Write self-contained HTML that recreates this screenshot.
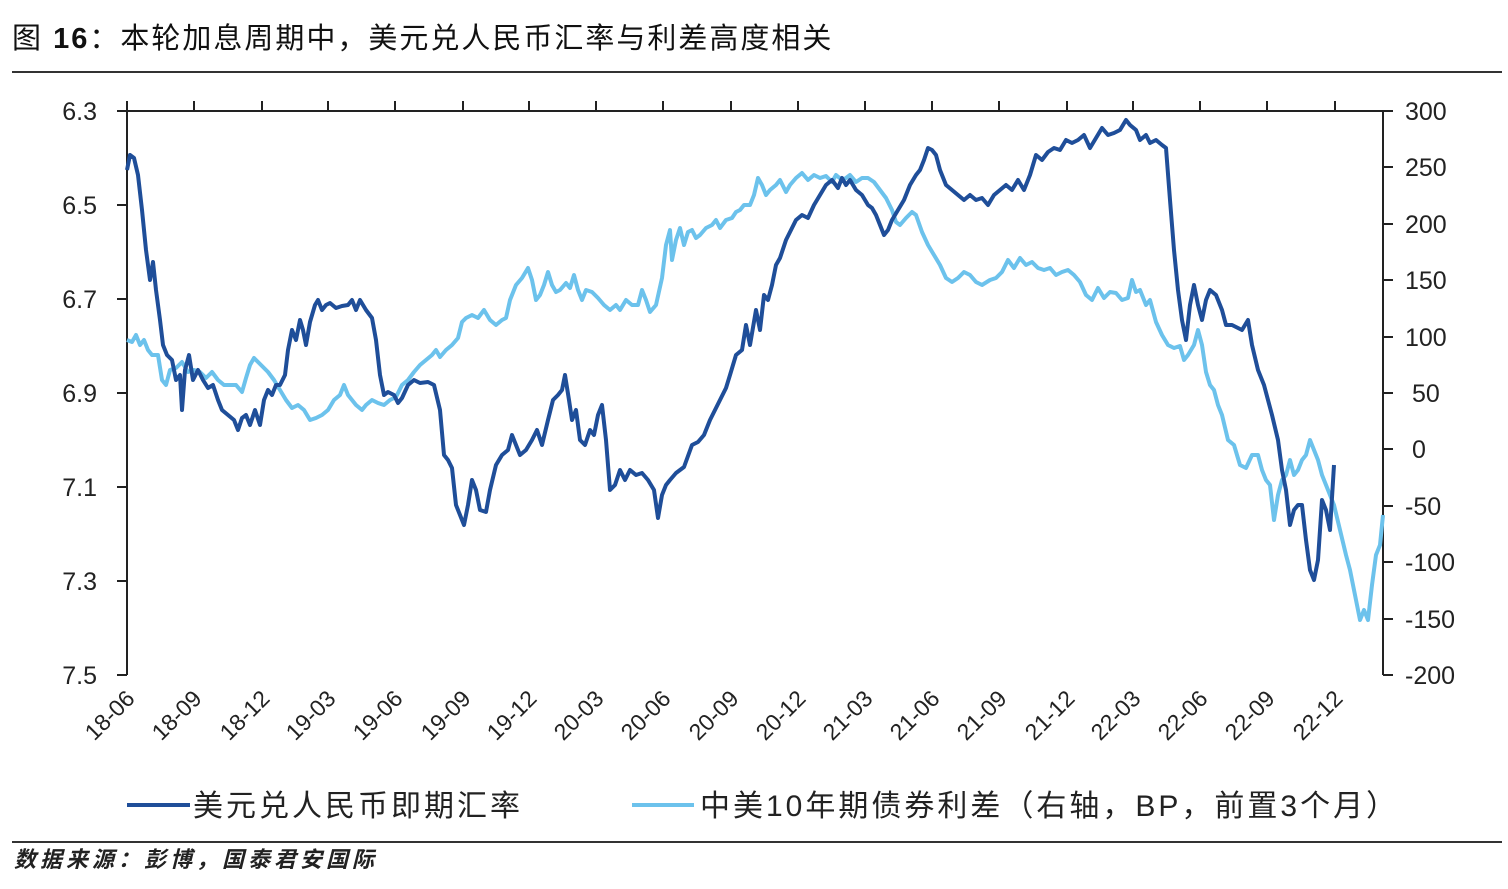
<!DOCTYPE html>
<html><head><meta charset="utf-8"><style>
body{margin:0;background:#fff;width:1508px;height:884px;overflow:hidden}
svg text{font-family:"Liberation Sans","Noto Sans CJK SC",sans-serif}
</style></head><body>
<svg width="1508" height="884" viewBox="0 0 1508 884" xmlns="http://www.w3.org/2000/svg">
<text x="12" y="48" font-size="29" letter-spacing="2" fill="#111">图 <tspan font-weight="bold">16</tspan>：本轮加息周期中，美元兑人民币汇率与利差高度相关</text>
<line x1="12" y1="72" x2="1502" y2="72" stroke="#333" stroke-width="2"/>
<g stroke="#222" stroke-width="2" fill="none">
<line x1="117" y1="111" x2="1383" y2="111"/>
<line x1="127" y1="101" x2="127" y2="675"/>
<line x1="1383" y1="111" x2="1383" y2="675"/>
<path d="M117 111h10M117 205h10M117 299h10M117 393h10M117 487h10M117 581h10M117 675h10"/>
<path d="M1383 111h10M1383 167h10M1383 224h10M1383 280h10M1383 337h10M1383 393h10M1383 449h10M1383 506h10M1383 562h10M1383 619h10M1383 675h10"/>
<path d="M194 101v10M262 101v10M328 101v10M395 101v10M463 101v10M529 101v10M596 101v10M663 101v10M731 101v10M798 101v10M865 101v10M932 101v10M999 101v10M1067 101v10M1133 101v10M1200 101v10M1267 101v10M1335 101v10"/>
</g>
<g font-size="25" fill="#222" text-anchor="end">
<text x="97" y="120">6.3</text><text x="97" y="214">6.5</text><text x="97" y="308">6.7</text><text x="97" y="402">6.9</text><text x="97" y="496">7.1</text><text x="97" y="590">7.3</text><text x="97" y="684">7.5</text>
</g>
<g font-size="25" fill="#222">
<text x="1405" y="120">300</text><text x="1405" y="176">250</text><text x="1405" y="233">200</text><text x="1405" y="289">150</text><text x="1405" y="346">100</text><text x="1412" y="402">50</text><text x="1412" y="458">0</text><text x="1405" y="515">-50</text><text x="1405" y="571">-100</text><text x="1405" y="628">-150</text><text x="1405" y="684">-200</text>
</g>
<g font-size="23" fill="#222" text-anchor="end">
<text transform="translate(136,700) rotate(-45)">18-06</text>
<text transform="translate(203,700) rotate(-45)">18-09</text>
<text transform="translate(271,700) rotate(-45)">18-12</text>
<text transform="translate(337,700) rotate(-45)">19-03</text>
<text transform="translate(404,700) rotate(-45)">19-06</text>
<text transform="translate(472,700) rotate(-45)">19-09</text>
<text transform="translate(538,700) rotate(-45)">19-12</text>
<text transform="translate(605,700) rotate(-45)">20-03</text>
<text transform="translate(672,700) rotate(-45)">20-06</text>
<text transform="translate(740,700) rotate(-45)">20-09</text>
<text transform="translate(807,700) rotate(-45)">20-12</text>
<text transform="translate(874,700) rotate(-45)">21-03</text>
<text transform="translate(941,700) rotate(-45)">21-06</text>
<text transform="translate(1008,700) rotate(-45)">21-09</text>
<text transform="translate(1076,700) rotate(-45)">21-12</text>
<text transform="translate(1142,700) rotate(-45)">22-03</text>
<text transform="translate(1209,700) rotate(-45)">22-06</text>
<text transform="translate(1276,700) rotate(-45)">22-09</text>
<text transform="translate(1344,700) rotate(-45)">22-12</text>
</g>
<polyline fill="none" stroke="#6cc2ec" stroke-width="4" stroke-linejoin="round" points="127,340 132,342 136,335 140,345 144,340 148,350 152,355 158,355 162,380 166,385 170,370 176,368 182,362 188,372 194,370 200,372 206,378 212,372 218,380 224,385 230,385 236,385 242,392 246,378 250,365 254,358 258,362 262,366 268,372 274,380 280,390 286,400 292,408 298,405 304,410 310,420 316,418 322,415 328,410 334,400 340,395 344,385 348,395 352,400 356,405 362,410 366,405 372,400 378,403 384,405 390,400 396,397 402,385 408,380 414,372 420,365 426,360 432,355 436,350 440,357 446,350 452,345 458,338 462,322 466,318 472,315 478,318 484,310 490,320 496,325 502,320 506,318 510,300 516,285 522,278 528,268 532,280 536,300 540,295 544,285 548,272 552,285 556,292 560,290 566,283 570,288 574,275 578,290 582,300 586,290 592,292 598,298 604,305 610,310 616,305 620,310 626,300 632,305 638,305 642,290 646,300 650,312 656,305 662,278 666,245 670,230 672,260 676,240 680,228 684,245 688,232 692,230 696,238 700,235 706,228 712,225 716,220 720,228 726,220 732,218 736,212 740,210 744,205 750,205 754,195 758,178 762,185 766,195 770,190 776,185 780,180 786,192 790,185 796,178 802,173 808,180 814,175 820,178 826,176 832,182 836,175 842,180 846,178 850,175 856,182 862,178 868,178 874,182 880,190 886,198 892,210 896,222 900,225 906,218 912,212 916,215 922,232 928,245 934,255 940,265 946,278 952,282 958,278 964,272 970,275 976,282 982,285 990,280 996,278 1002,272 1008,260 1014,268 1020,258 1026,265 1032,262 1038,268 1044,270 1050,268 1056,275 1062,272 1068,270 1074,275 1080,282 1086,295 1092,300 1098,288 1104,298 1110,292 1116,293 1122,300 1128,298 1132,280 1136,292 1140,290 1146,305 1150,300 1156,322 1162,335 1168,345 1174,348 1180,346 1184,360 1188,355 1194,345 1198,330 1202,345 1206,372 1210,385 1214,390 1218,405 1222,415 1228,440 1234,445 1240,465 1246,468 1252,455 1258,455 1262,470 1266,480 1270,485 1274,520 1278,495 1282,480 1286,475 1290,460 1294,475 1298,470 1302,460 1306,455 1310,440 1314,450 1318,460 1322,475 1328,490 1334,505 1340,530 1346,555 1350,570 1356,600 1360,620 1364,610 1368,620 1372,585 1376,555 1380,545 1383,515"/>
<polyline fill="none" stroke="#1f4e99" stroke-width="4" stroke-linejoin="round" points="127,170 130,155 134,158 138,175 142,210 146,250 150,280 153,262 156,290 160,320 163,345 167,355 172,360 176,380 180,375 182,410 185,370 189,355 193,380 198,370 203,380 208,388 213,385 218,400 222,410 228,415 234,420 238,430 242,418 246,415 250,425 255,410 260,425 264,400 268,390 272,395 276,385 280,385 285,375 288,350 292,330 296,340 300,320 303,330 306,345 310,322 315,305 318,300 322,310 326,305 330,303 336,308 342,306 348,305 352,300 356,310 360,300 366,310 372,318 376,340 380,375 384,395 388,392 394,395 398,403 402,398 408,385 414,380 420,383 428,382 434,385 440,410 444,455 448,460 452,468 456,505 460,515 464,525 468,505 472,480 476,490 480,510 486,512 490,490 496,465 502,455 508,450 512,435 516,445 520,455 526,450 532,440 537,430 542,445 548,420 553,400 558,395 562,390 565,375 569,400 572,420 576,410 580,440 585,445 590,430 594,435 598,415 602,405 606,440 610,490 615,485 620,470 625,480 630,470 636,475 642,473 648,480 654,490 658,518 662,495 666,485 670,480 676,473 684,467 692,445 698,442 704,435 710,420 716,408 720,400 726,388 730,375 736,355 742,350 746,325 750,345 756,310 760,330 764,295 768,300 772,285 776,265 780,258 786,240 790,232 796,220 802,215 808,218 814,205 820,195 826,185 832,180 838,188 842,178 846,185 850,180 856,190 862,195 868,205 872,208 876,215 880,225 884,235 888,230 892,220 898,210 904,200 910,185 916,175 920,170 924,160 928,148 932,150 936,155 940,170 946,185 952,190 958,195 964,200 970,195 976,200 982,198 988,205 994,195 1000,190 1006,185 1012,190 1018,180 1024,190 1030,175 1036,155 1042,160 1048,152 1054,148 1060,150 1066,140 1072,143 1078,140 1084,135 1090,148 1096,138 1102,128 1108,135 1114,133 1120,130 1126,120 1130,125 1136,130 1140,140 1146,135 1150,143 1156,140 1162,145 1166,148 1170,200 1174,250 1178,290 1182,320 1186,340 1190,305 1194,285 1198,305 1202,320 1206,300 1210,290 1216,295 1222,310 1226,325 1232,325 1238,328 1242,330 1248,320 1252,345 1258,370 1264,385 1268,400 1272,415 1278,440 1282,470 1286,490 1290,525 1294,510 1298,505 1302,505 1306,540 1310,570 1314,580 1318,560 1322,500 1326,510 1330,530 1334,465"/>
<line x1="127" y1="805" x2="190" y2="805" stroke="#1f4e99" stroke-width="4"/>
<text x="193" y="816" font-size="30" letter-spacing="3" fill="#222">美元兑人民币即期汇率</text>
<line x1="632" y1="805" x2="694" y2="805" stroke="#6cc2ec" stroke-width="4"/>
<text x="700" y="816" font-size="30" letter-spacing="3" fill="#222">中美10年期债券利差（右轴，BP，前置3个月）</text>
<line x1="12" y1="842" x2="1502" y2="842" stroke="#333" stroke-width="2"/>
<text x="14" y="867" font-size="22" letter-spacing="4" font-style="italic" font-weight="bold" fill="#222">数据来源：彭博，国泰君安国际</text>
</svg>
</body></html>
